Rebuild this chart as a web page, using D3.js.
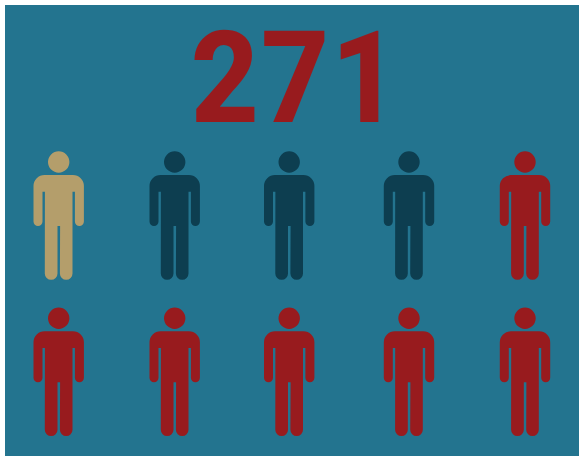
<!DOCTYPE html>
<html><head><meta charset="utf-8">
<script src="https://cdnjs.cloudflare.com/ajax/libs/d3/7.8.5/d3.min.js"></script>
<style>html,body{margin:0;padding:0;background:#fff;overflow:hidden}svg{display:block}</style>
</head><body><svg id="c" width="579" height="456"></svg>
<script>
const headline = "271";
const groups = ["first", "second", "third"];
const groupCounts = [1, 3, 6];
const groupColors = ["#b49e6b", "#0d3e50", "#981b1e"];
const background = "#23748f";

const perRow = 5;
const people = groups.flatMap((g, i) => d3.range(groupCounts[i]).map(() => g)).map((g, i) => ({
  group: g, col: i % perRow, row: Math.floor(i / perRow)
}));

const svg = d3.select("#c");
const x = d3.scaleOrdinal().domain(d3.range(perRow)).range([58.7, 174.7, 289.2, 409, 525]);
const y = d3.scaleOrdinal().domain([0, 1]).range([151.4, 307.6]);
const color = d3.scaleOrdinal().domain(groups).range(groupColors);

svg.append("rect").attr("x", 5).attr("y", 5).attr("width", 574).attr("height", 451).attr("fill", background);

svg.append("text")
  .attr("transform", "translate(296,122) scale(0.925,1)")
  .attr("text-anchor", "middle")
  .attr("letter-spacing", 2)
  .attr("font-family", "Roboto, Arial, sans-serif")
  .attr("font-weight", 800).attr("font-size", 128)
  .attr("fill", groupColors[2]).text(headline);

function personPath() {
  const p = d3.path();
  p.moveTo(10.7, 10.6); p.arc(0, 10.6, 10.7, 0, 2 * Math.PI); p.closePath();
  const top = 23.7, s = 25.2, c = 11, aw = 9, ab = 74.6, gapY = 40.3, t = 13.8, lw = 6.3, lb = 128.4, crotch = 74.6;
  p.moveTo(-s + c, top);
  p.lineTo(s - c, top);
  p.arcTo(s, top, s, top + c, c);
  p.lineTo(s, ab - aw / 2);
  p.arc(s - aw / 2, ab - aw / 2, aw / 2, 0, Math.PI);
  p.lineTo(s - aw, gapY);
  p.lineTo(t, gapY);
  p.lineTo(t, lb - lw);
  p.arc(t - lw, lb - lw, lw, 0, Math.PI);
  p.lineTo(1.4, crotch);
  p.lineTo(-1.2, crotch);
  p.lineTo(-1.2, lb - lw);
  p.arc(-t + lw - 0.05, lb - lw, lw + 0.05, 0, Math.PI);
  p.lineTo(-t, gapY);
  p.lineTo(-s + aw, gapY);
  p.lineTo(-s + aw, ab - aw / 2);
  p.arc(-s + aw / 2, ab - aw / 2, aw / 2, 0, Math.PI);
  p.lineTo(-s, top + c);
  p.arcTo(-s, top, -s + c, top, c);
  p.closePath();
  return p.toString();
}
const d = personPath();
svg.append("g").selectAll("path").data(people).join("path")
  .attr("d", d)
  .attr("transform", v => `translate(${x(v.col)},${y(v.row)})`)
  .attr("fill", v => color(v.group));
</script></body></html>
